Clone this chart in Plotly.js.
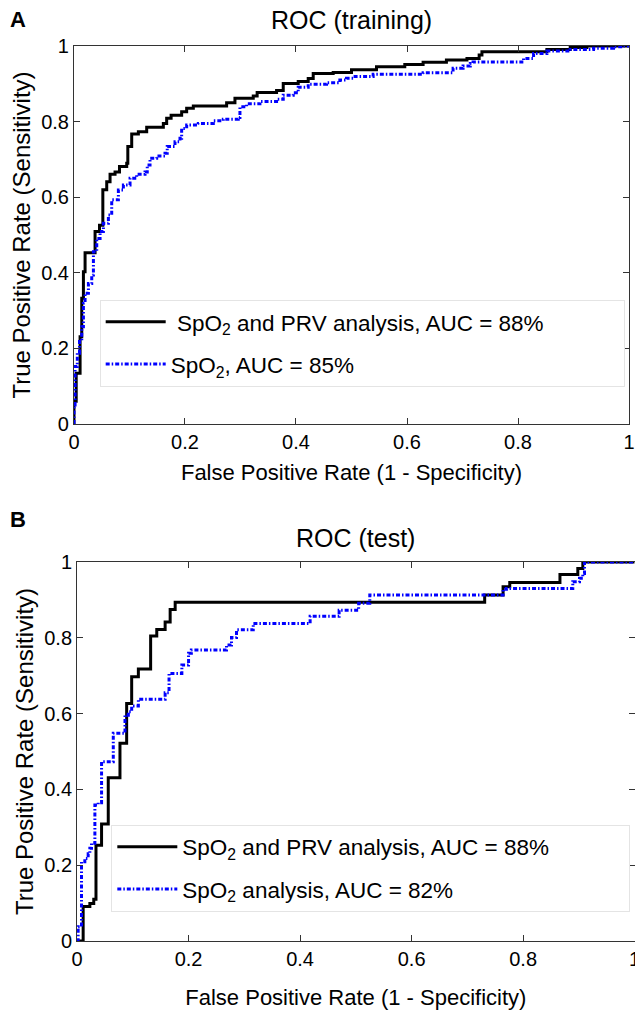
<!DOCTYPE html>
<html>
<head>
<meta charset="utf-8">
<script src="https://cdn.plot.ly/plotly-3.0.1.min.js"></script>
<style>html,body{margin:0;padding:0;background:#fff;}#chart{width:635px;height:1011px;}</style>
</head>
<body>
<div id="chart"></div>
<script>
// Panel A: ROC (training)  -- step points: at x, TPR rises to y
const trainPrvFpr = [0, 0, 0.004, 0.011, 0.014, 0.017, 0.020, 0.038, 0.046, 0.052, 0.059, 0.065, 0.074, 0.082, 0.095, 0.097, 0.104, 0.116, 0.131, 0.161, 0.167, 0.175, 0.194, 0.203, 0.215, 0.275, 0.290, 0.323, 0.330, 0.365, 0.377, 0.404, 0.422, 0.431, 0.467, 0.500, 0.545, 0.596, 0.629, 0.671, 0.708, 0.730, 0.735, 0.852, 0.894, 0.924, 1];
const trainPrvTpr = [0, 0.06, 0.134, 0.231, 0.333, 0.403, 0.453, 0.509, 0.526, 0.620, 0.641, 0.661, 0.667, 0.681, 0.690, 0.734, 0.767, 0.773, 0.785, 0.795, 0.809, 0.817, 0.826, 0.835, 0.841, 0.850, 0.862, 0.868, 0.877, 0.882, 0.901, 0.906, 0.914, 0.927, 0.930, 0.937, 0.945, 0.951, 0.957, 0.963, 0.967, 0.976, 0.985, 0.991, 0.996, 1, 1];

const trainSpo2Fpr = [0, 0, 0.002, 0.006, 0.010, 0.014, 0.017, 0.020, 0.026, 0.032, 0.035, 0.041, 0.047, 0.053, 0.062, 0.068, 0.080, 0.089, 0.101, 0.113, 0.128, 0.132, 0.137, 0.149, 0.164, 0.168, 0.182, 0.191, 0.194, 0.203, 0.224, 0.251, 0.269, 0.296, 0.299, 0.311, 0.335, 0.365, 0.377, 0.395, 0.404, 0.422, 0.455, 0.479, 0.491, 0.503, 0.539, 0.629, 0.683, 0.701, 0.714, 0.719, 0.810, 0.828, 0.852, 0.894, 0.936, 0.972, 0.990, 1];
const trainSpo2Tpr = [0, 0.05, 0.152, 0.187, 0.218, 0.257, 0.319, 0.346, 0.372, 0.394, 0.456, 0.491, 0.509, 0.531, 0.553, 0.593, 0.619, 0.632, 0.650, 0.661, 0.667, 0.685, 0.703, 0.709, 0.716, 0.734, 0.747, 0.756, 0.782, 0.791, 0.795, 0.802, 0.806, 0.811, 0.839, 0.847, 0.853, 0.859, 0.870, 0.876, 0.891, 0.899, 0.903, 0.910, 0.915, 0.919, 0.925, 0.929, 0.941, 0.947, 0.954, 0.958, 0.967, 0.980, 0.987, 0.991, 0.994, 0.998, 1, 1];

// Panel B: ROC (test)
const testPrvFpr = [0, 0.011, 0.023, 0.030, 0.034, 0.044, 0.056, 0.077, 0.089, 0.098, 0.110, 0.132, 0.143, 0.158, 0.167, 0.176, 0.731, 0.764, 0.776, 0.866, 0.898, 0.907, 1];
const testPrvTpr = [0, 0.091, 0.099, 0.110, 0.253, 0.309, 0.431, 0.522, 0.627, 0.697, 0.718, 0.805, 0.822, 0.842, 0.875, 0.894, 0.913, 0.935, 0.946, 0.967, 0.983, 1, 1];

const testSpo2Fpr = [0, 0.002, 0.008, 0.014, 0.020, 0.023, 0.026, 0.032, 0.038, 0.044, 0.065, 0.086, 0.092, 0.098, 0.110, 0.158, 0.165, 0.188, 0.200, 0.205, 0.268, 0.277, 0.286, 0.316, 0.418, 0.470, 0.505, 0.525, 0.764, 0.770, 0.889, 0.901, 0.907, 0.910, 1];
const testSpo2Tpr = [0, 0.038, 0.209, 0.218, 0.230, 0.245, 0.258, 0.359, 0.365, 0.473, 0.548, 0.596, 0.605, 0.620, 0.638, 0.655, 0.706, 0.728, 0.759, 0.768, 0.781, 0.801, 0.821, 0.838, 0.857, 0.873, 0.891, 0.913, 0.928, 0.930, 0.948, 0.957, 0.970, 1, 1];

const panelTitles = ['ROC (training)', 'ROC (test)'];
const panelLetters = ['A', 'B'];
const xTitle = 'False Positive Rate (1 - Specificity)';
const yTitle = 'True Positive Rate (Sensitivity)';
const namesA = ['\u00a0SpO<sub>2</sub> and PRV analysis, AUC = 88%', 'SpO<sub>2</sub>, AUC = 85%'];
const namesB = ['SpO<sub>2</sub> and PRV analysis, AUC = 88%', 'SpO<sub>2</sub> analysis, AUC = 82%'];

const pad = '\u00a0'.repeat(12);
const FONT = 'Liberation Sans, Arial, Helvetica, sans-serif';
const blackLine = {shape: 'hv', color: '#000000', width: 3};
const blueLine = {shape: 'hv', color: '#0000ff', width: 3, dash: '4px,2px,1.5px,2px'};

const traces = [
  {x: trainPrvFpr, y: trainPrvTpr, xaxis: 'x', yaxis: 'y', mode: 'lines', line: blackLine, name: namesA[0] + pad, legend: 'legend', legendgroup: 'a1', cliponaxis: false},
  {x: trainSpo2Fpr, y: trainSpo2Tpr, xaxis: 'x', yaxis: 'y', mode: 'lines', line: blueLine, name: namesA[1], legend: 'legend', legendgroup: 'a2', cliponaxis: false},
  {x: testPrvFpr, y: testPrvTpr, xaxis: 'x2', yaxis: 'y2', mode: 'lines', line: blackLine, name: namesB[0] + pad, legend: 'legend2', legendgroup: 'b1', cliponaxis: false},
  {x: testSpo2Fpr, y: testSpo2Tpr, xaxis: 'x2', yaxis: 'y2', mode: 'lines', line: blueLine, name: namesB[1], legend: 'legend2', legendgroup: 'b2', cliponaxis: false}
];

function xax(domain, anchor, standoff) {
  return {domain: domain, anchor: anchor, range: [0, 1], dtick: 0.2, tick0: 0,
    showline: true, linecolor: '#333', linewidth: 1, mirror: 'ticks', ticks: 'inside', ticklen: 6, tickcolor: '#333',
    showgrid: false, zeroline: false, ticklabeloverflow: 'allow', tickfont: {size: 20, family: FONT, color: '#000'},
    title: {text: xTitle, font: {size: 22, family: FONT, color: '#000'}, standoff: standoff}, fixedrange: true};
}
function yax(domain, anchor) {
  return {domain: domain, anchor: anchor, range: [0, 1], dtick: 0.2, tick0: 0,
    showline: true, linecolor: '#333', linewidth: 1, mirror: 'ticks', ticks: 'inside', ticklen: 6, tickcolor: '#333',
    showgrid: false, zeroline: false, tickfont: {size: 20, family: FONT, color: '#000'},
    title: {text: yTitle, font: {size: 24, family: FONT, color: '#000'}, standoff: 3}, fixedrange: true};
}

function legendCfg(x, y) {
  return {x: x, y: y, xanchor: 'left', yanchor: 'top', bgcolor: '#ffffff', bordercolor: '#e4e4e4', borderwidth: 1,
    font: {size: 22.5, family: FONT, color: '#000'}, tracegroupgap: 10, itemwidth: 60, traceorder: 'grouped'};
}

const layout = {
  width: 635, height: 1011,
  margin: {l: 0, r: 0, t: 0, b: 0},
  paper_bgcolor: '#ffffff', plot_bgcolor: '#ffffff',
  font: {family: FONT, color: '#000'},
  showlegend: true,
  xaxis: xax([0.1165, 0.9906], 'y', 12),
  yaxis: yax([0.5806, 0.9545], 'x'),
  xaxis2: xax([0.1213, 0.9995], 'y2', 20),
  yaxis2: yax([0.0692, 0.4441], 'x2'),
  legend: legendCfg(0.157, 0.7036),
  legend2: legendCfg(0.1753, 0.1844),
  annotations: [
    {text: panelTitles[0], xref: 'x domain', yref: 'paper', x: 0.5, y: 1 - 20 / 1011, xanchor: 'center', yanchor: 'middle', showarrow: false, font: {size: 25, family: FONT, color: '#000'}},
    {text: panelTitles[1], xref: 'x2 domain', yref: 'paper', x: 0.5, y: 1 - 538 / 1011, xanchor: 'center', yanchor: 'middle', showarrow: false, font: {size: 25, family: FONT, color: '#000'}},
    {text: '<b>' + panelLetters[0] + '</b>', xref: 'paper', yref: 'paper', x: 18 / 635, y: 1 - 20 / 1011, xanchor: 'center', yanchor: 'middle', showarrow: false, font: {size: 22, family: FONT, color: '#000'}},
    {text: '<b>' + panelLetters[1] + '</b>', xref: 'paper', yref: 'paper', x: 18 / 635, y: 1 - 519 / 1011, xanchor: 'center', yanchor: 'middle', showarrow: false, font: {size: 22, family: FONT, color: '#000'}}
  ]
};

Plotly.newPlot('chart', traces, layout, {displayModeBar: false, staticPlot: true});
</script>
</body>
</html>
